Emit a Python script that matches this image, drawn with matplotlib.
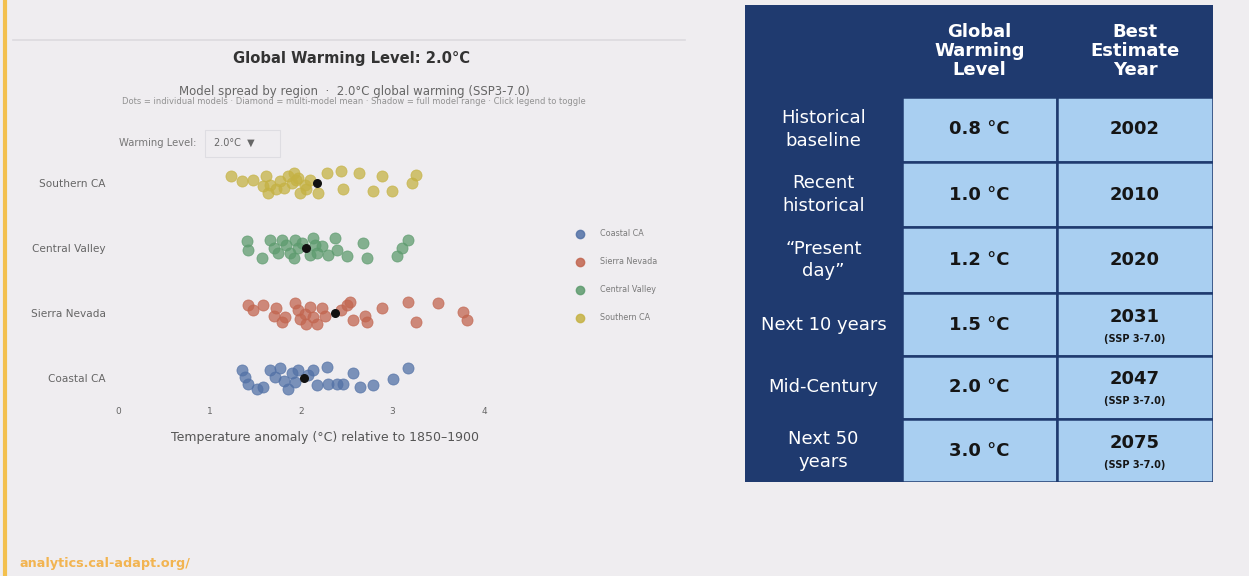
import numpy as np
import matplotlib.pyplot as plt
from matplotlib.patches import Rectangle

W, H = 1249, 576
BG = "#efedf0"
NAVY = "#1f3a6f"
CELL = "#a9cff1"

# ---- model spread at 2.0 C global warming, per region ----
regions = ["Coastal CA", "Sierra Nevada", "Central Valley", "Southern CA"]
region_colors = ["#5271a6", "#c2654f", "#5d9b6e", "#c5b243"]

coastal_temp = [1.35, 1.39, 1.42, 1.52, 1.59, 1.66, 1.72, 1.77, 1.81, 1.86, 1.90, 1.93, 1.97,
                2.08, 2.13, 2.17, 2.28, 2.30, 2.39, 2.46, 2.57, 2.64, 2.79, 3.01, 3.17]
coastal_jit = [0.12, 0.02, -0.09, -0.17, -0.14, 0.12, 0.02, 0.15, -0.04, -0.17, 0.07, -0.06, 0.12,
               0.04, 0.12, -0.11, 0.17, -0.09, -0.09, -0.09, 0.07, -0.14, -0.11, -0.01, 0.15]

sierra_temp = [1.42, 1.48, 1.59, 1.70, 1.73, 1.79, 1.83, 1.93, 1.97, 1.99, 2.04, 2.06, 2.10, 2.13,
               2.17, 2.23, 2.26, 2.44, 2.50, 2.54, 2.57, 2.70, 2.72, 2.88, 3.17, 3.26, 3.50, 3.77, 3.81]
sierra_jit = [0.12, 0.04, 0.12, -0.04, 0.07, -0.14, -0.06, 0.15, 0.04, -0.09, -0.01, -0.17, 0.09, -0.06,
              -0.17, 0.07, -0.04, 0.04, 0.12, 0.17, -0.11, -0.04, -0.14, 0.07, 0.17, -0.14, 0.15, 0.02, -0.11]

central_temp = [1.41, 1.42, 1.57, 1.66, 1.70, 1.75, 1.79, 1.84, 1.88, 1.92, 1.93, 1.97, 2.01, 2.10,
                2.13, 2.15, 2.17, 2.23, 2.30, 2.37, 2.39, 2.50, 2.68, 2.72, 3.05, 3.10, 3.17]
central_jit = [0.10, -0.03, -0.16, 0.13, 0.00, -0.08, 0.13, 0.05, -0.08, -0.16, 0.13, 0.00, 0.08, -0.10,
               0.16, 0.05, -0.08, 0.03, -0.10, 0.16, -0.03, -0.13, 0.08, -0.16, -0.13, 0.00, 0.13]

southern_temp = [1.24, 1.35, 1.48, 1.58, 1.62, 1.64, 1.66, 1.73, 1.77, 1.81, 1.86, 1.90, 1.92, 1.94,
                 1.97, 1.99, 2.04, 2.06, 2.10, 2.19, 2.28, 2.44, 2.46, 2.63, 2.79, 2.88, 2.99, 3.21, 3.26]
southern_jit = [0.11, 0.03, 0.04, -0.05, 0.10, -0.16, -0.03, -0.10, 0.03, -0.08, 0.10, 0.00, 0.16, 0.05,
                0.08, -0.16, -0.03, -0.10, 0.05, -0.16, 0.15, 0.18, -0.10, 0.16, -0.13, 0.10, -0.13, 0.00, 0.13]

region_means = [2.03, 2.37, 2.06, 2.17]
x_ticks = [0, 1, 2, 3, 4]

# ---- warming level lookup table ----
table_header = ["", "Global\nWarming\nLevel", "Best\nEstimate\nYear"]
periods = ["Historical\nbaseline", "Recent\nhistorical", "“Present\nday”",
           "Next 10 years", "Mid-Century", "Next 50\nyears"]
gwl_values = [0.8, 1.0, 1.2, 1.5, 2.0, 3.0]
best_years = [2002, 2010, 2020, 2031, 2047, 2075]
scenarios = ["", "", "", "SSP 3-7.0", "SSP 3-7.0", "SSP 3-7.0"]


def px_box(x0, y0, x1, y1):
    return [x0 / W, 1 - y1 / H, (x1 - x0) / W, (y1 - y0) / H]


fig = plt.figure(figsize=(W / 100, H / 100), dpi=100, facecolor=BG)

# page decorations
fig.add_artist(plt.Line2D([5 / W, 5 / W], [0, 1], color="#f3c04e", lw=3))
fig.add_artist(plt.Line2D([13 / W, 685 / W], [1 - 40 / H, 1 - 40 / H], color="#dcdadf", lw=1.2))

fig.text(352 / W, 1 - 58 / H, "Global Warming Level: 2.0°C", ha="center", va="center",
         fontsize=10.6, fontweight="bold", color="#333333")
fig.text(354 / W, 1 - 92 / H, "Model spread by region  ·  2.0°C global warming (SSP3-7.0)",
         ha="center", va="center", fontsize=8.5, color="#666666")
fig.text(354 / W, 1 - 102 / H,
         "Dots = individual models · Diamond = multi-model mean · Shadow = full model range · Click legend to toggle",
         ha="center", va="center", fontsize=6, color="#929292")

fig.text(196 / W, 1 - 143 / H, "Warming Level:", ha="right", va="center", fontsize=7.2, color="#777777")
fig.add_artist(Rectangle((205 / W, 1 - 157 / H), 75 / W, 27 / H, transform=fig.transFigure,
                         facecolor=BG, edgecolor="#dedde2", lw=0.8))
fig.text(214 / W, 1 - 143 / H, "2.0°C  ▼", ha="left", va="center", fontsize=7, color="#666666")

# ---- strip plot ----
ax = fig.add_axes(px_box(118, 160, 484, 400))
ax.set_facecolor("none")
temps = [coastal_temp, sierra_temp, central_temp, southern_temp]
jits = [coastal_jit, sierra_jit, central_jit, southern_jit]
for i, (t, j, c) in enumerate(zip(temps, jits, region_colors)):
    y = i + np.array(j)
    ax.scatter(t, y, s=64, color=c, alpha=0.74, edgecolor=c, linewidth=0.6, clip_on=False, zorder=2)
    ax.scatter([region_means[i]], [i], s=30, color="#111111", marker="o", zorder=3, clip_on=False)

ax.set_xlim(0, 4)
ax.set_ylim(-22 / 65, 3 + 23 / 65)
ax.set_xticks(x_ticks)
ax.set_xticklabels([str(v) for v in x_ticks])
ax.set_yticks(range(len(regions)))
ax.set_yticklabels(regions)
ax.tick_params(axis="both", length=0, labelcolor="#666666")
ax.tick_params(axis="x", pad=5, labelsize=6.5)
ax.tick_params(axis="y", pad=9, labelsize=7.6)
for sp in ax.spines.values():
    sp.set_visible(False)
fig.text(325 / W, 1 - 437 / H, "Temperature anomaly (°C) relative to 1850–1900",
         ha="center", va="center", fontsize=9, color="#555555")

# legend (plotly-style, listed in trace order)
for k, (name, c) in enumerate(zip(regions, region_colors)):
    yk = 1 - (234 + 28 * k) / H
    fig.add_artist(plt.Line2D([580 / W], [yk], marker="o", markersize=6, color=c,
                              alpha=0.85, transform=fig.transFigure))
    fig.text(600 / W, yk, name, ha="left", va="center", fontsize=5.8, color="#7a7a7a")

# ---- table ----
col_w = [157, 155, 156]
row_h = [92, 65, 65, 66, 63, 63, 63]
tx = fig.add_axes(px_box(745, 5, 745 + sum(col_w), 5 + sum(row_h)))
tx.set_xlim(0, sum(col_w))
tx.set_ylim(sum(row_h), 0)
tx.axis("off")
xe = np.concatenate([[0], np.cumsum(col_w)])
ye = np.concatenate([[0], np.cumsum(row_h)])

for r in range(len(row_h)):
    for c in range(len(col_w)):
        fc = NAVY if (r == 0 or c == 0) else CELL
        tx.add_patch(Rectangle((xe[c], ye[r]), col_w[c], row_h[r], facecolor=fc,
                               edgecolor=NAVY, lw=1.8))

for c, label in enumerate(table_header):
    tx.text((xe[c] + xe[c + 1]) / 2, (ye[0] + ye[1]) / 2, label, ha="center", va="center",
            color="white", fontsize=13, fontweight="bold", linespacing=1.08)

for r, (per, g, yr, sc) in enumerate(zip(periods, gwl_values, best_years, scenarios), start=1):
    yc = (ye[r] + ye[r + 1]) / 2
    tx.text((xe[0] + xe[1]) / 2, yc, per, ha="center", va="center", color="white",
            fontsize=13, linespacing=1.3)
    tx.text((xe[1] + xe[2]) / 2, yc, f"{g:.1f} °C", ha="center", va="center", color="#151515",
            fontsize=13, fontweight="bold")
    x3 = (xe[2] + xe[3]) / 2
    if sc:
        tx.text(x3, yc - 8, str(yr), ha="center", va="center", color="#151515",
                fontsize=13, fontweight="bold")
        tx.text(x3, yc + 14, f"({sc})", ha="center", va="center", color="#151515",
                fontsize=7, fontweight="bold")
    else:
        tx.text(x3, yc, str(yr), ha="center", va="center", color="#151515",
                fontsize=13, fontweight="bold")

fig.text(20 / W, 1 - 563 / H, "analytics.cal-adapt.org/", ha="left", va="center",
         fontsize=9.2, fontweight="bold", color="#f2b451")

fig.savefig("out.png", dpi=100, facecolor=BG)
